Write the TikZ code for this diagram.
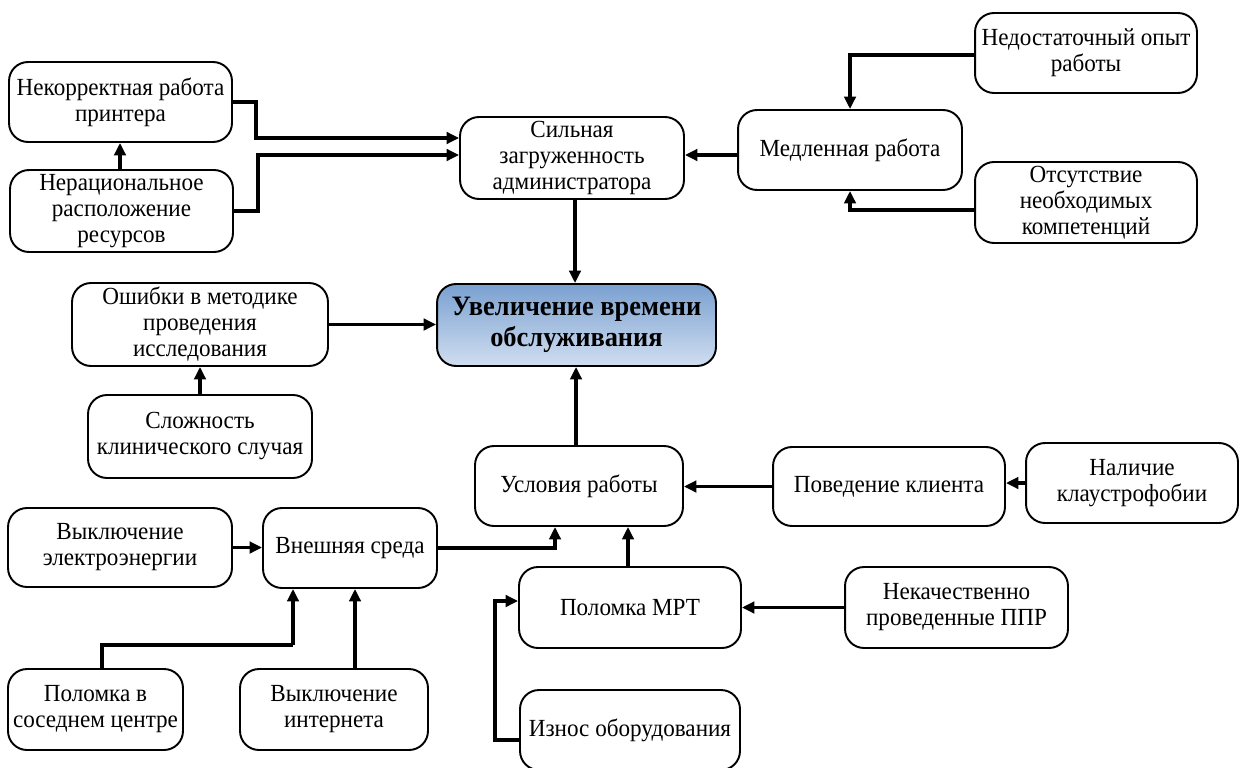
\documentclass[tikz,border=0pt]{standalone}
\usepackage{fontspec}
\setmainfont{Liberation Serif}[FakeStretch=0.94]
\usetikzlibrary{arrows.meta}
\definecolor{uvtop}{RGB}{122,160,208}
\definecolor{uvbot}{RGB}{208,222,240}
\tikzset{
  box/.style={draw=black, line width=1.1pt, rounded corners=0.38cm, fill=white,
    align=center, inner sep=1pt, font=\fontsize{14}{14.8}\selectfont},
  mainbox/.style={box, top color=uvtop, bottom color=uvbot,
    font=\fontsize{16}{18}\selectfont\bfseries},
  arr/.style={line width=1.9pt, -{Triangle[length=0.25cm,width=0.23cm]}},
  ln/.style={line width=1.9pt}
}
\begin{document}
\begin{tikzpicture}[x=0.02cm,y=-0.02cm]
\clip (0,0) rectangle (1239,767);
\fill[white] (0,0) rectangle (1239,767);
% nodes
\node[box, minimum width=4.46cm, minimum height=1.60cm] (nek) at (120.5,102) {Некорректная работа\\принтера};
\node[box, minimum width=4.46cm, minimum height=1.64cm] (ner) at (121.5,211) {Нерациональное\\расположение\\ресурсов};
\node[box, minimum width=4.48cm, minimum height=1.64cm] (sil) at (572,158) {Сильная\\загруженность\\администратора};
\node[box, minimum width=4.48cm, minimum height=1.60cm] (med) at (850,150) {Медленная работа};
\node[box, minimum width=4.44cm, minimum height=1.60cm] (ned) at (1086,53) {Недостаточный опыт\\работы};
\node[box, minimum width=4.44cm, minimum height=1.62cm] (ots) at (1086,202.5) {Отсутствие\\необходимых\\компетенций};
\node[mainbox, minimum width=5.58cm, minimum height=1.64cm] (uv) at (576.5,325) {Увеличение времени\\обслуживания};
\node[box, minimum width=5.12cm, minimum height=1.66cm] (osh) at (200,324.5) {Ошибки в методике\\проведения\\исследования};
\node[box, minimum width=4.48cm, minimum height=1.66cm] (slo) at (200,436.5) {Сложность\\клинического случая};
\node[box, minimum width=4.16cm, minimum height=1.60cm] (usl) at (579,486) {Условия работы};
\node[box, minimum width=4.64cm, minimum height=1.58cm] (pov) at (889,486.5) {Поведение клиента};
\node[box, minimum width=4.24cm, minimum height=1.60cm] (nal) at (1132,483) {Наличие\\клаустрофобии};
\node[box, minimum width=4.48cm, minimum height=1.58cm] (vyk) at (120,547.5) {Выключение\\электроэнергии};
\node[box, minimum width=3.48cm, minimum height=1.60cm] (vne) at (350,548) {Внешняя среда};
\node[box, minimum width=4.44cm, minimum height=1.62cm] (pol) at (630,607.5) {Поломка МРТ};
\node[box, minimum width=4.46cm, minimum height=1.62cm] (nka) at (956.5,607.5) {Некачественно\\проведенные ППР};
\node[box, minimum width=4.40cm, minimum height=1.60cm] (izn) at (630,730) {Износ оборудования};
\node[box, minimum width=3.50cm, minimum height=1.62cm] (pos) at (95.5,709.5) {Поломка в\\соседнем центре};
\node[box, minimum width=3.76cm, minimum height=1.62cm] (vin) at (334,709.5) {Выключение\\интернета};
% connectors
\draw[arr] (nek.east) -- ++(23,0) |- (sil.west |- 0,138);
\draw[arr] (ner.east) -- ++(24,0) |- (sil.west |- 0,155);
\draw[arr] (ner.north -| 120,0) -- (120,0 |- nek.south);
\draw[arr] (ned.west |- 0,55) -| (med.north);
\draw[arr] (ots.west |- 0,210) -| (med.south);
\draw[arr] (med.west |- 0,155) -- (sil.east |- 0,155);
\draw[arr] (575,0 |- sil.south) -- (575,0 |- uv.north);
\draw[arr] (osh.east) -- (uv.west |- osh.east);
\draw[arr] (slo.north) -- (slo.north |- osh.south);
\draw[arr] (576,0 |- usl.north) -- (576,0 |- uv.south);
\draw[arr] (pov.west) -- (usl.east |- pov.west);
\draw[arr] (nal.west) -- (pov.east |- nal.west);
\draw[arr] (vyk.east) -- (vne.west |- vyk.east);
\draw[arr] (vne.east) -| (555,0 |- usl.south);
\draw[arr] (628,0 |- pol.north) -- (628,0 |- usl.south);
\draw[arr] (nka.west) -- (pol.east |- nka.west);
\draw[arr] (izn.west |- 0,740) -- ++(-24,0) |- (pol.west |- 0,601);
\draw[ln] (102,0 |- pos.north) -- (102,645) -- (293,645);
\draw[arr] (293,645) -- (293,0 |- vne.south);
\draw[arr] (355,0 |- vin.north) -- (355,0 |- vne.south);
\end{tikzpicture}
\end{document}
